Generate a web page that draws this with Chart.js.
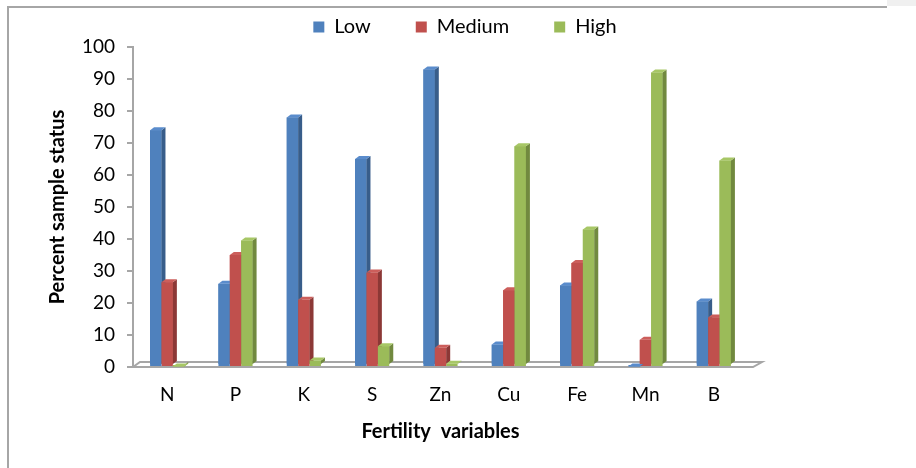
<!DOCTYPE html>
<html>
<head>
<meta charset="utf-8">
<script src="https://cdn.jsdelivr.net/npm/chart.js@4/dist/chart.umd.min.js"></script>
<style>
  html, body { margin: 0; padding: 0; background: #fff; }
  #wrap { position: relative; width: 916px; height: 468px; overflow: hidden; }
  #frame { position: absolute; left: 7px; top: 6px; width: 878px; height: 470px;
           border-left: 2px solid #a6a6a6; border-top: 2px solid #a6a6a6; }
  #corner { position: absolute; left: 887px; top: 0; width: 29px; height: 6px; background: #f0f0f0; }
  canvas { position: absolute; left: 0; top: 0; }
</style>
</head>
<body>
<div id="wrap">
  <div id="frame"></div>
  <div id="corner"></div>
  <canvas id="chart" width="916" height="468"></canvas>
</div>
<script>
// nutrient categories and % of samples per fertility class
const nutrients = ['N', 'P', 'K', 'S', 'Zn', 'Cu', 'Fe', 'Mn', 'B'];
const lowPct    = [74, 26, 78, 65, 93, 7, 25.5, 0, 20.5];
const mediumPct = [26.5, 35, 21, 29.5, 6, 24, 32.5, 8.5, 15.5];
const highPct   = [0, 39.5, 2, 6.5, 1, 69, 43, 92, 64.5];
const yTicks    = [0, 10, 20, 30, 40, 50, 60, 70, 80, 90, 100];

const FONT = 'Lato, Carlito, Calibri, sans-serif';
const DX = 4, DY = 3;

function poly(ctx, pts, color) {
    ctx.beginPath();
    ctx.moveTo(pts[0][0], pts[0][1]);
    for (let i = 1; i < pts.length; i++) ctx.lineTo(pts[i][0], pts[i][1]);
    ctx.closePath();
    ctx.fillStyle = color;
    ctx.fill();
}

// fake 3D look: floor + side/top faces for every bar
const bar3d = {
    id: 'bar3d',
    beforeDatasetsDraw(chart) {
        const { ctx, chartArea: a } = chart;
        ctx.save();
        ctx.beginPath();
        ctx.moveTo(a.left, a.bottom);
        ctx.lineTo(a.left + 7, a.bottom - 5);
        ctx.lineTo(a.right + 14, a.bottom - 5);
        ctx.lineTo(a.right + 5, a.bottom);
        ctx.closePath();
        ctx.fillStyle = '#fff';
        ctx.fill();
        ctx.strokeStyle = '#a6a6a6';
        ctx.lineWidth = 2;
        ctx.stroke();
        ctx.restore();
    },
    afterDatasetsDraw(chart) {
        const ctx = chart.ctx;
        const sets = chart.data.datasets;
        ctx.save();
        for (let i = 0; i < chart.data.labels.length; i++) {
            sets.forEach((ds, d) => {
                const el = chart.getDatasetMeta(d).data[i];
                const l = el.x - el.width / 2, r = el.x + el.width / 2;
                const t = Math.min(el.y, el.base - 0.5), b = el.base - 2;
                ctx.fillStyle = ds.backgroundColor;
                ctx.fillRect(l, t, r - l, b - t);
                poly(ctx, [[r, t], [r + DX, t - DY], [r + DX, b - DY], [r, b]], ds.sideColor);
                poly(ctx, [[l, t], [l + DX, t - DY], [r + DX, t - DY], [r, t]], ds.topColor);
            });
        }
        ctx.restore();
    }
};

new Chart(document.getElementById('chart'), {
    type: 'bar',
    data: {
        labels: nutrients,
        datasets: [
            { label: 'Low', data: lowPct, backgroundColor: '#4f81bd', sideColor: '#385d8a', topColor: '#5a8ccc' },
            { label: 'Medium', data: mediumPct, backgroundColor: '#c0504d', sideColor: '#8c3836', topColor: '#cc5e5b' },
            { label: 'High', data: highPct, backgroundColor: '#9bbb59', sideColor: '#71893f', topColor: '#a7c766' }
        ].map(ds => Object.assign(ds, { borderWidth: 0, barPercentage: 1, categoryPercentage: 0.5 }))
    },
    options: {
        responsive: false,
        animation: false,
        layout: { padding: { top: -28, left: 14, right: 0, bottom: 0 } },
        plugins: {
            legend: {
                position: 'top',
                labels: {
                    font: { family: FONT, size: 20 },
                    color: '#000',
                    boxWidth: 11,
                    boxHeight: 11,
                    padding: 45
                }
            },
            tooltip: { enabled: false }
        },
        scales: {
            x: {
                grid: { display: false },
                border: { display: false },
                ticks: { font: { family: FONT, size: 19 }, color: '#000', padding: 8 },
                title: {
                    display: true,
                    text: 'Fertility  variables',
                    font: { family: FONT, size: 20, weight: 'bold' },
                    color: '#000',
                    padding: { top: 0, bottom: 24 }
                },
                afterFit: s => { s.height = 101; }
            },
            y: {
                min: 0,
                max: 100,
                afterBuildTicks: s => { s.ticks = yTicks.map(v => ({ value: v })); },
                grid: { drawOnChartArea: false, drawTicks: true, tickLength: 6, color: '#a6a6a6', lineWidth: 2 },
                border: { display: true, color: '#a6a6a6', width: 2 },
                ticks: { font: { family: FONT, size: 19 }, color: '#000', padding: 12 },
                title: {
                    display: true,
                    text: 'Percent sample status',
                    font: { family: FONT, size: 20, weight: 'bold' },
                    color: '#000',
                    padding: { top: 32, bottom: 0 }
                },
                afterFit: s => { s.width = 119; }
            },
            spacer: {
                type: 'linear',
                position: 'right',
                grid: { display: false },
                border: { display: false },
                ticks: { display: false },
                afterFit: s => { s.width = 168; }
            }
        }
    },
    plugins: [bar3d]
});
</script>
</body>
</html>
